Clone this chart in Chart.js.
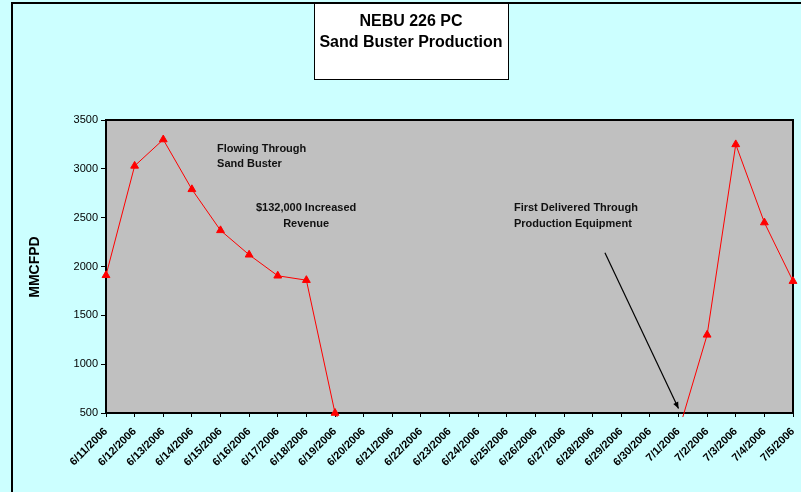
<!DOCTYPE html>
<html lang="en">
<head>
    <meta charset="UTF-8">
    <title>NEBU 226 PC Sand Buster Production</title>
    <script src="https://cdn.jsdelivr.net/npm/chart.js"></script>
    <style>
        body {
            margin: 0;
            padding: 0;
            background: #ccffff;
        }
        canvas {
            display: block;
        }
    </style>
</head>
<body>

<canvas id="sandBusterChart" width="801" height="492"></canvas>

<script>
    // Data
    const dates = [
        '6/11/2006', '6/12/2006', '6/13/2006', '6/14/2006', '6/15/2006', '6/16/2006',
        '6/17/2006', '6/18/2006', '6/19/2006', '6/20/2006', '6/21/2006', '6/22/2006',
        '6/23/2006', '6/24/2006', '6/25/2006', '6/26/2006', '6/27/2006', '6/28/2006',
        '6/29/2006', '6/30/2006', '7/1/2006', '7/2/2006', '7/3/2006', '7/4/2006', '7/5/2006'
    ];
    const production = [
        1910, 3030, 3300, 2790, 2370, 2120,
        1905, 1860, 500, 0, 0, 0,
        0, 0, 0, 0, 0, 0,
        0, 0, 310, 1300, 3250, 2450, 1850
    ];
    const yTicks = [500, 1000, 1500, 2000, 2500, 3000, 3500];

    const titleLines = ['NEBU 226 PC', 'Sand Buster Production'];

    // notes placed in data coordinates (category index, value)
    const notes = [
        { text: 'Flowing Through', x: 3.88, y: 3200, align: 'left' },
        { text: 'Sand Buster', x: 3.88, y: 3045, align: 'left' },
        { text: '$132,000 Increased', x: 6.99, y: 2600, align: 'center' },
        { text: 'Revenue', x: 6.99, y: 2435, align: 'center' },
        { text: 'First Delivered Through', x: 14.25, y: 2600, align: 'left' },
        { text: 'Production Equipment', x: 14.25, y: 2435, align: 'left' }
    ];
    const arrow = { x1: 17.43, y1: 2140, x2: 20.0, y2: 545 };

    // background, frame and plot area fill
    const backdrop = {
        id: 'backdrop',
        beforeDraw(chart) {
            const ctx = chart.ctx;
            const a = chart.chartArea;
            ctx.save();
            ctx.fillStyle = '#ccffff';
            ctx.fillRect(0, 0, chart.width, chart.height);
            ctx.strokeStyle = '#000';
            ctx.lineWidth = 2;
            ctx.strokeRect(12, 3, chart.width + 20, chart.height + 20);
            ctx.fillStyle = '#c0c0c0';
            ctx.fillRect(a.left, a.top, a.right - a.left, a.bottom - a.top);
            ctx.lineWidth = 2;
            ctx.strokeRect(a.left, a.top, a.right - a.left, a.bottom - a.top);
            ctx.restore();
        },
        afterDraw(chart) {
            const ctx = chart.ctx;
            const xs = chart.scales.x;
            const ys = chart.scales.y;
            ctx.save();

            // title box
            ctx.fillStyle = '#fff';
            ctx.fillRect(314, 3, 194, 76);
            ctx.strokeStyle = '#000';
            ctx.lineWidth = 1;
            ctx.strokeRect(314.5, 3.5, 194, 76);
            ctx.fillStyle = '#000';
            ctx.font = 'bold 16px "Liberation Sans", Arial, sans-serif';
            ctx.textAlign = 'center';
            ctx.textBaseline = 'middle';
            ctx.fillText(titleLines[0], 411, 22);
            ctx.fillText(titleLines[1], 411, 43);

            // y axis title
            ctx.save();
            ctx.translate(35, 267);
            ctx.rotate(-Math.PI / 2);
            ctx.font = 'bold 14px "Liberation Sans", Arial, sans-serif';
            ctx.fillText('MMCFPD', 0, 0);
            ctx.restore();

            // notes
            ctx.font = 'bold 11px "Liberation Sans", Arial, sans-serif';
            ctx.fillStyle = '#111';
            notes.forEach(n => {
                ctx.textAlign = n.align;
                ctx.fillText(n.text, xs.getPixelForValue(n.x), ys.getPixelForValue(n.y));
            });

            // arrow
            const x1 = xs.getPixelForValue(arrow.x1), y1 = ys.getPixelForValue(arrow.y1);
            const x2 = xs.getPixelForValue(arrow.x2), y2 = ys.getPixelForValue(arrow.y2);
            ctx.strokeStyle = '#000';
            ctx.lineWidth = 1.2;
            ctx.beginPath();
            ctx.moveTo(x1, y1);
            ctx.lineTo(x2, y2);
            ctx.stroke();
            const ang = Math.atan2(y2 - y1, x2 - x1);
            ctx.fillStyle = '#000';
            ctx.beginPath();
            ctx.moveTo(x2, y2);
            ctx.lineTo(x2 - 7 * Math.cos(ang - 0.4), y2 - 7 * Math.sin(ang - 0.4));
            ctx.lineTo(x2 - 7 * Math.cos(ang + 0.4), y2 - 7 * Math.sin(ang + 0.4));
            ctx.closePath();
            ctx.fill();

            ctx.restore();
        }
    };

    const ctx = document.getElementById('sandBusterChart').getContext('2d');
    new Chart(ctx, {
        type: 'line',
        data: {
            labels: dates,
            datasets: [{
                data: production,
                borderColor: '#ff0000',
                backgroundColor: '#ff0000',
                borderWidth: 1,
                pointStyle: 'triangle',
                pointRadius: 4.5,
                pointBorderWidth: 1,
                tension: 0,
                clip: { left: 6, top: 6, right: 6, bottom: 4 }
            }]
        },
        options: {
            responsive: false,
            animation: false,
            layout: {
                padding: { left: 20, right: 8, top: 120, bottom: 0 }
            },
            plugins: {
                legend: { display: false },
                tooltip: { enabled: false }
            },
            scales: {
                x: {
                    type: 'category',
                    offset: false,
                    afterFit(scale) {
                        scale.height = 79;
                        scale.paddingLeft = 0;
                        scale.paddingRight = 0;
                    },
                    grid: {
                        drawOnChartArea: false,
                        drawTicks: true,
                        tickLength: 4,
                        color: '#000'
                    },
                    border: { color: '#000', width: 2 },
                    ticks: {
                        autoSkip: false,
                        maxRotation: 45,
                        minRotation: 45,
                        padding: 8,
                        color: '#000',
                        font: { family: '"Liberation Sans", Arial, sans-serif', size: 11, weight: 'bold' }
                    }
                },
                y: {
                    min: 500,
                    max: 3500,
                    afterFit(scale) {
                        scale.width = 86;
                        scale.paddingTop = 0;
                        scale.paddingBottom = 0;
                    },
                    afterBuildTicks(scale) {
                        scale.ticks = yTicks.map(v => ({ value: v }));
                    },
                    grid: {
                        drawOnChartArea: false,
                        drawTicks: true,
                        tickLength: 5,
                        color: '#000'
                    },
                    border: { color: '#000', width: 2 },
                    ticks: {
                        padding: 3,
                        color: '#000',
                        callback: v => String(v),
                        font: { family: '"Liberation Sans", Arial, sans-serif', size: 11 }
                    }
                }
            }
        },
        plugins: [backdrop]
    });
</script>

</body>
</html>
